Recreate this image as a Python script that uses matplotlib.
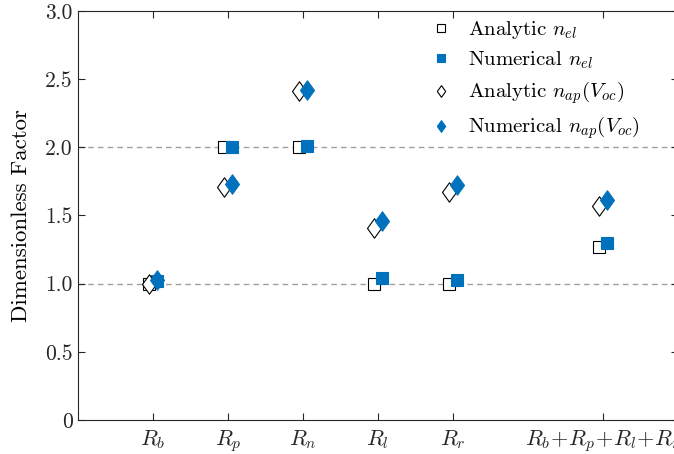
import matplotlib
matplotlib.use("Agg")
import matplotlib.pyplot as plt

plt.rcParams['font.family'] = 'serif'
plt.rcParams['font.serif'] = ['cmr10']
plt.rcParams['mathtext.fontset'] = 'cm'
plt.rcParams['axes.unicode_minus'] = False

blue = '#0072BD'

positions = [1, 2, 3, 4, 5, 7]
labels = [r'$R_b$', r'$R_p$', r'$R_n$', r'$R_l$', r'$R_r$', r'$R_b\!+\!R_p\!+\!R_l\!+\!R_r$']

analytic_nel = [1.00, 2.00, 2.00, 1.00, 1.00, 1.27]
numerical_nel = [1.02, 2.00, 2.01, 1.04, 1.03, 1.30]
analytic_nap = [1.00, 1.71, 2.41, 1.41, 1.67, 1.57]
numerical_nap = [1.03, 1.73, 2.42, 1.46, 1.72, 1.61]

yticks = [0, 0.5, 1.0, 1.5, 2.0, 2.5, 3.0]
ytick_labels = ['0', '0.5', '1.0', '1.5', '2.0', '2.5', '3.0']

diamond = [(-0.72, 0), (0, 1), (0.72, 0), (0, -1), (-0.72, 0)]
shift = 0.055

fig = plt.figure(figsize=(6.74, 4.54), dpi=100)
ax = fig.add_axes([0.1155, 0.075, 0.890, 0.901])

for yl in [1.0, 2.0]:
    ax.axhline(yl, color='#a0a0a0', linestyle='--', linewidth=1, dashes=(4, 3), zorder=0)

xl = [p - shift for p in positions]
xr = [p + shift for p in positions]
ax.plot(xl, analytic_nel, linestyle='none', marker='s', markersize=8.5, markerfacecolor='white',
        markeredgecolor='black', markeredgewidth=0.8, label=r'Analytic $n_{el}$')
ax.plot(xr, numerical_nel, linestyle='none', marker='s', markersize=8.5, markerfacecolor=blue,
        markeredgecolor=blue, markeredgewidth=0.8, label=r'Numerical $n_{el}$')
ax.plot(xl, analytic_nap, linestyle='none', marker=diamond, markersize=14, markerfacecolor='white',
        markeredgecolor='black', markeredgewidth=0.8, label=r'Analytic $n_{ap}(V_{oc})$')
ax.plot(xr, numerical_nap, linestyle='none', marker=diamond, markersize=14, markerfacecolor=blue,
        markeredgecolor=blue, markeredgewidth=0.8, label=r'Numerical $n_{ap}(V_{oc})$')

ax.set_xlim(0, 8)
ax.set_ylim(0, 3)
ax.set_xticks(positions)
ax.set_xticklabels(labels)
ax.set_yticks(yticks)
ax.set_yticklabels(ytick_labels)
ax.set_ylabel('Dimensionless Factor', fontsize=16.5, labelpad=10)

ax.tick_params(direction='in', top=True, right=True, labelsize=15.5, colors='#262626', length=5, width=0.8)
ax.tick_params(axis='x', pad=6, labelsize=16)
for s in ax.spines.values():
    s.set_color('#262626')
    s.set_linewidth(0.8)

leg = ax.legend(loc='upper right', bbox_to_anchor=(0.968, 1.025), frameon=False, fontsize=15,
                handletextpad=0.3, labelspacing=0.4, markerscale=0.6, handlelength=2.0)

fig.savefig('out.png', dpi=100)
